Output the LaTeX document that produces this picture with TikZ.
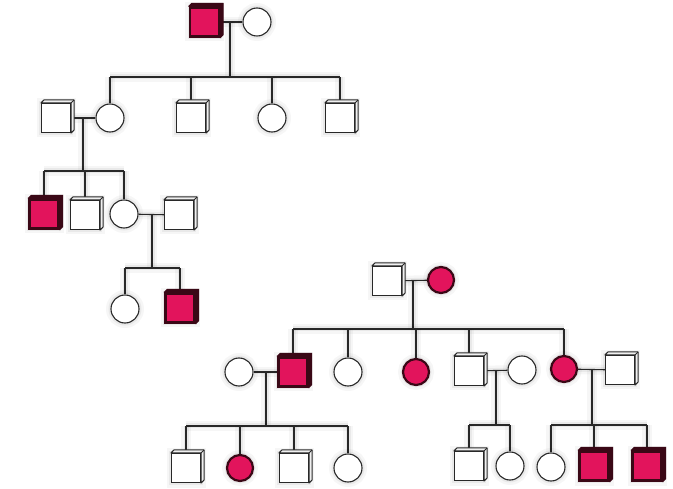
\documentclass[tikz,border=0pt]{standalone}
\usetikzlibrary{backgrounds}
\definecolor{affpink}{RGB}{226,20,92}
\definecolor{affedge}{RGB}{58,8,22}
\definecolor{ink}{RGB}{40,40,40}
\tikzset{
  halo/.style={preaction={draw=black,opacity=0.035,line width=10pt},preaction={draw=black,opacity=0.05,line width=5pt}},
  male/.style={rectangle,draw=ink,line width=1.1pt,fill=white,minimum size=29pt,inner sep=0pt,halo},
  female/.style={circle,draw=ink,line width=1.1pt,fill=white,minimum size=28pt,inner sep=0pt,halo},
  aff/.style={fill=affpink,draw=affedge,line width=2.2pt},
  link/.style={draw=ink,line width=1.1pt,halo},
  cubeside/.style={draw=ink,line width=1pt,fill=white!94!black,line join=round},
  cubesideaff/.style={draw=affedge,line width=1.2pt,fill=affedge,line join=round}
}
\begin{document}
\begin{tikzpicture}[x=1pt,y=-1pt]
\useasboundingbox (0,0) rectangle (673,489);
% ---------- family A ----------
\node[male,aff] (A1) at (204.5,22) {};
\node[female] (A2) at (257,22) {};
\node[female] (A3) at (110,118) {};
\node[male] (A4) at (191,118) {};
\node[female] (A5) at (272,118) {};
\node[male] (A6) at (340,118) {};
\node[male] (A7) at (56,118) {};
\node[male,aff] (A8) at (44,214) {};
\node[male] (A9) at (85,215) {};
\node[female] (A10) at (124,214) {};
\node[male] (A11) at (179,215) {};
\node[female] (A12) at (125,309) {};
\node[male,aff] (A13) at (180,308) {};
% ---------- family B ----------
\node[male] (B1) at (387,281) {};
\node[female,aff,minimum size=26pt] (B2) at (441,280) {};
\node[male,aff] (B3) at (293,372) {};
\node[female] (B4) at (348,372) {};
\node[female,aff,minimum size=26pt] (B5) at (416,372) {};
\node[male] (B6) at (469,371) {};
\node[female,aff,minimum size=26pt] (B7) at (564,369) {};
\node[female] (B8) at (239,372) {};
\node[male] (B9) at (186,468) {};
\node[female,aff,minimum size=26pt] (B10) at (240,468) {};
\node[male] (B11) at (294,468) {};
\node[female] (B12) at (348,468) {};
\node[female] (B13) at (522,370) {};
\node[male] (B14) at (469,466) {};
\node[female] (B15) at (510,466) {};
\node[male] (B16) at (620,370) {};
\node[female] (B17) at (551,467) {};
\node[male,aff] (B18) at (594,466) {};
\node[male,aff] (B19) at (647,466) {};
% cube sides of the squares
\foreach \n in {A4,A6,A7,A9,A11,B1,B6,B9,B11,B14,B16}{
  \path[cubeside] (\n.north west) -- ++(3,-3) -- ([shift={(3,-3)}]\n.north east)
    -- ([shift={(3,-3)}]\n.south east) -- (\n.south east) -- (\n.north east) -- cycle;
  \draw[ink,line width=0.8pt] (\n.north east) -- ++(3,-3);
}
\foreach \n in {A1,A8,A13,B3,B18,B19}{
  \path[cubesideaff] (\n.north west) -- ++(3,-3) -- ([shift={(3,-3)}]\n.north east)
    -- ([shift={(3,-3)}]\n.south east) -- (\n.south east) -- (\n.north east) -- cycle;
}
% ---------- connectors ----------
\begin{scope}[on background layer]
% family A, generation 1
\coordinate (mA) at (230,22);
\coordinate (bA) at (230,77);
\draw[link] (A1) -- (A2);
\draw[link] (mA) -- (bA);
\draw[link] (A3.north |- bA) -- (A6.north |- bA);
\foreach \c in {A3,A4,A5,A6} \draw[link] (\c.north |- bA) -- (\c.north);
% A7 x A3
\coordinate (mA2) at (83,118);
\coordinate (bA2) at (83,171);
\draw[link] (A7) -- (A3);
\draw[link] (mA2) -- (bA2);
\draw[link] (A8.north |- bA2) -- (A10.north |- bA2);
\foreach \c in {A8,A9,A10} \draw[link] (\c.north |- bA2) -- (\c.north);
% A10 x A11
\coordinate (mA3) at (152,215);
\coordinate (bA3) at (152,268);
\draw[link] (A10) -- (A11);
\draw[link] (mA3) -- (bA3);
\draw[link] (A12.north |- bA3) -- (A13.north |- bA3);
\foreach \c in {A12,A13} \draw[link] (\c.north |- bA3) -- (\c.north);
% family B, generation 1
\coordinate (mB) at (413,281);
\coordinate (bB) at (413,329);
\draw[link] (B1) -- (B2);
\draw[link] (mB) -- (bB);
\draw[link] (B3.north |- bB) -- (B7.north |- bB);
\foreach \c in {B3,B4,B5,B6,B7} \draw[link] (\c.north |- bB) -- (\c.north);
% B8 x B3
\coordinate (mB2) at (266,372);
\coordinate (bB2) at (266,426);
\draw[link] (B8) -- (B3);
\draw[link] (mB2) -- (bB2);
\draw[link] (B9.north |- bB2) -- (B12.north |- bB2);
\foreach \c in {B9,B10,B11,B12} \draw[link] (\c.north |- bB2) -- (\c.north);
% B6 x B13
\coordinate (mB3) at (496,371);
\coordinate (bB3) at (496,425);
\draw[link] (B6) -- (B13);
\draw[link] (mB3) -- (bB3);
\draw[link] (B14.north |- bB3) -- (B15.north |- bB3);
\foreach \c in {B14,B15} \draw[link] (\c.north |- bB3) -- (\c.north);
% B7 x B16
\coordinate (mB4) at (592,370);
\coordinate (bB4) at (592,425);
\draw[link] (B7) -- (B16);
\draw[link] (mB4) -- (bB4);
\draw[link] (B17.north |- bB4) -- (B19.north |- bB4);
\foreach \c in {B17,B18,B19} \draw[link] (\c.north |- bB4) -- (\c.north);
\end{scope}
\end{tikzpicture}
\end{document}
